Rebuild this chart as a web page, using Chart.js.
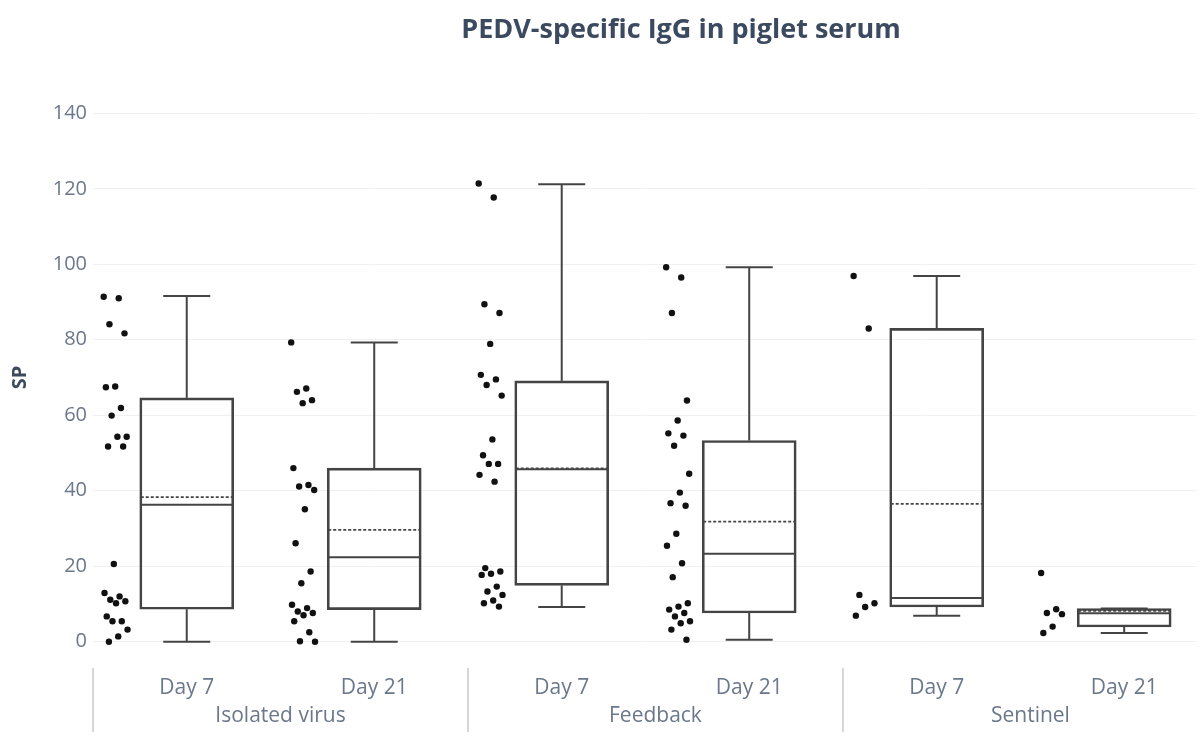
<!DOCTYPE html>
<html>
<head>
<meta charset="utf-8">
<script src="https://cdn.jsdelivr.net/npm/chart.js@4.4.0/dist/chart.umd.min.js"></script>
<style>
  html, body { margin: 0; padding: 0; background: #ffffff; overflow: hidden; }
  #wrap { width: 1200px; height: 747px; position: relative; }
</style>
</head>
<body>
<div id="wrap"><canvas id="c"></canvas></div>
<script>
// ---------- data ----------
const chartTitle = 'PEDV-specific IgG in piglet serum';
const yAxisTitle = 'SP';
const categories = ['Day 7', 'Day 21', 'Day 7', 'Day 21', 'Day 7', 'Day 21'];
const groups = ['Isolated virus', 'Feedback', 'Sentinel'];
const yTickValues = [0, 20, 40, 60, 80, 100, 120, 140];

// box statistics
const lowerWhisker = [0, 0, 9.2, 0.5, 6.9, 2.3];
const q1 = [8.6, 8.5, 14.9, 7.6, 9.2, 3.9];
const median = [36.3, 22.4, 45.7, 23.3, 11.6, 7.5];
const mean = [38.3, 29.6, 45.9, 31.8, 36.5, 8.2];
const q3 = [64.6, 46.0, 69.1, 53.3, 83.0, 8.8];
const upperWhisker = [91.6, 79.3, 121.2, 99.2, 96.9, 8.8];

// individual sample points
const ptsIsolatedDay7 = [91.4, 91.0, 84.1, 81.7, 67.6, 67.4, 61.9, 59.9, 54.3, 54.3, 51.7, 51.7, 20.6, 12.9, 12.0, 11.1, 10.7, 10.2, 6.7, 5.4, 5.4, 3.2, 1.4, 0];
const ptsIsolatedDay21 = [79.3, 67.1, 66.2, 64.0, 63.2, 46.0, 41.5, 41.1, 40.2, 35.1, 26.1, 18.6, 15.5, 9.8, 8.9, 8.0, 7.6, 7.0, 5.4, 2.5, 0.1, 0];
const ptsFeedbackDay7 = [121.4, 117.7, 89.4, 87.1, 78.9, 70.7, 69.5, 68.0, 65.2, 53.6, 49.4, 47.1, 47.1, 44.2, 42.4, 19.5, 18.6, 18.0, 17.7, 14.6, 13.3, 12.4, 10.9, 10.2, 9.3];
const ptsFeedbackDay21 = [99.2, 96.5, 87.1, 63.9, 58.6, 55.2, 54.6, 51.9, 44.5, 39.5, 36.7, 36.0, 28.6, 25.4, 20.8, 17.1, 10.2, 9.3, 8.5, 7.6, 6.7, 5.4, 4.9, 3.2, 0.5];
const ptsSentinelDay7 = [96.9, 83.0, 12.4, 10.2, 9.2, 6.9];
const ptsSentinelDay21 = [18.2, 8.6, 7.6, 7.3, 4.0, 2.3];
const pointSeries = [ptsIsolatedDay7, ptsIsolatedDay21, ptsFeedbackDay7, ptsFeedbackDay21, ptsSentinelDay7, ptsSentinelDay21];

// ---------- style ----------
const FONT = '"Open Sans", "Noto Sans", sans-serif';
const TICK_COLOR = '#6b778a';
const TITLE_COLOR = '#3c4a60';
const BOX_COLOR = '#444444';
const BOX_PX = 94;
const POINT_OFFSET = -0.378;   // points drawn to the left of each box (x units)
const JITTER_SPAN = 0.13;

function jitter(j) { return ((j * 0.618034) % 1) - 0.5; }

const scatterData = [];
pointSeries.forEach((vals, i) => {
  vals.forEach((v, j) => scatterData.push({ x: i + POINT_OFFSET + jitter(j) * JITTER_SPAN, y: v }));
});

const boxData = categories.map((_, i) => ({ x: i, y: [q1[i], q3[i]] }));

// ---------- plugins ----------
const boxPartsPlugin = {
  id: 'boxParts',
  afterDatasetsDraw(chart) {
    const { ctx, scales: { x, y } } = chart;
    const half = BOX_PX / 2 - 1;
    const cap = BOX_PX / 4;
    ctx.save();
    ctx.strokeStyle = BOX_COLOR;
    ctx.lineCap = 'butt';
    const line = (x1, y1, x2, y2) => { ctx.beginPath(); ctx.moveTo(x1, y1); ctx.lineTo(x2, y2); ctx.stroke(); };
    categories.forEach((_, i) => {
      const cx = x.getPixelForValue(i);
      const yLo = y.getPixelForValue(lowerWhisker[i]);
      const yQ1 = y.getPixelForValue(q1[i]);
      const yMed = y.getPixelForValue(median[i]);
      const yMean = y.getPixelForValue(mean[i]);
      const yQ3 = y.getPixelForValue(q3[i]);
      const yUp = y.getPixelForValue(upperWhisker[i]);
      ctx.lineWidth = 2;
      ctx.setLineDash([]);
      line(cx, yQ3, cx, yUp);
      line(cx - cap, yUp, cx + cap, yUp);
      line(cx, yQ1, cx, yLo);
      line(cx - cap, yLo, cx + cap, yLo);
      line(cx - half, yMed, cx + half, yMed);
      ctx.lineWidth = 1.8;
      ctx.setLineDash([3, 2]);
      line(cx - half, yMean, cx + half, yMean);
    });
    ctx.restore();
  }
};

const groupAxisPlugin = {
  id: 'groupAxis',
  afterDraw(chart) {
    const { ctx, scales: { x } } = chart;
    ctx.save();
    // dividers between groups
    ctx.strokeStyle = '#d4d6da';
    ctx.lineWidth = 2;
    groups.forEach((_, g) => {
      const px = x.getPixelForValue(g * 2 - 0.5);
      ctx.beginPath(); ctx.moveTo(px, 668); ctx.lineTo(px, 732); ctx.stroke();
    });
    // group labels
    ctx.fillStyle = TICK_COLOR;
    ctx.font = '21px ' + FONT;
    ctx.textAlign = 'center';
    ctx.textBaseline = 'middle';
    groups.forEach((label, g) => {
      ctx.fillText(label, x.getPixelForValue(g * 2 + 0.5), 716);
    });
    // chart title
    ctx.fillStyle = TITLE_COLOR;
    ctx.font = 'bold 27px ' + FONT;
    ctx.fillText(chartTitle, 681, 30);
    ctx.restore();
  }
};

// ---------- chart ----------
new Chart(document.getElementById('c'), {
  type: 'bar',
  data: {
    datasets: [
      {
        type: 'bar',
        data: boxData,
        barThickness: BOX_PX,
        borderWidth: 2,
        borderColor: BOX_COLOR,
        backgroundColor: 'rgba(255,255,255,0)',
        borderSkipped: false,
        order: 2
      },
      {
        type: 'scatter',
        data: scatterData,
        pointRadius: 3.2,
        pointBackgroundColor: '#111111',
        pointBorderWidth: 0,
        showLine: false,
        order: 1
      }
    ]
  },
  options: {
    responsive: true,
    maintainAspectRatio: false,
    animation: false,
    events: [],
    layout: { padding: { top: 102, left: 0, right: 0, bottom: 0 } },
    plugins: { legend: { display: false }, tooltip: { enabled: false }, title: { display: false } },
    scales: {
      x: {
        type: 'linear',
        min: -0.5,
        max: 5.383,
        offset: false,
        grid: { display: false },
        border: { display: false },
        afterBuildTicks: (s) => { s.ticks = categories.map((_, i) => ({ value: i })); },
        afterFit: (s) => { s.height = 94; },
        ticks: {
          autoSkip: false,
          maxRotation: 0,
          padding: 14,
          color: TICK_COLOR,
          font: { family: FONT, size: 21 },
          callback: (v) => categories[v]
        }
      },
      y: {
        type: 'linear',
        min: -3,
        max: 143,
        afterBuildTicks: (s) => { s.ticks = yTickValues.map(v => ({ value: v })); },
        afterFit: (s) => { s.width = 93; },
        grid: { color: '#eef0f4', lineWidth: 1, drawTicks: false },
        border: { display: false },
        ticks: {
          padding: 6,
          color: TICK_COLOR,
          font: { family: FONT, size: 20 }
        },
        title: {
          display: true,
          text: yAxisTitle,
          color: TITLE_COLOR,
          font: { family: FONT, size: 20, weight: 'bold' },
          padding: { top: 8, bottom: 0 }
        }
      }
    }
  },
  plugins: [boxPartsPlugin, groupAxisPlugin]
});
</script>
</body>
</html>
